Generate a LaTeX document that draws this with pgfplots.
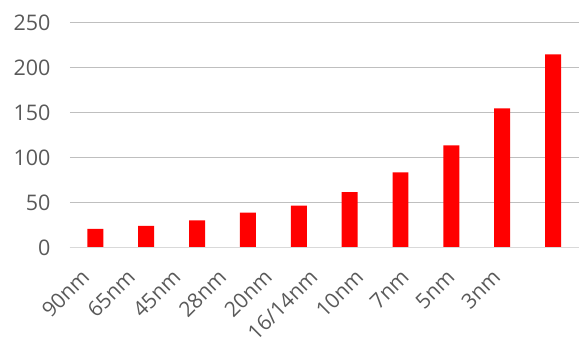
\documentclass[border=0pt]{standalone}
\usepackage{pgfplots}
\pgfplotsset{compat=1.18}
\usepackage{fontspec}
\setmainfont{Open Sans}
\definecolor{txt}{HTML}{595959}
\definecolor{grid}{HTML}{D9D9D9}
\begin{document}
\begin{tikzpicture}
\begin{axis}[
  at={(0,0)}, anchor=south west,
  scale only axis, width=509pt, height=225pt,
  xmin=-0.5, xmax=9.5, ymin=0, ymax=250,
  ytick={0,50,...,250},
  xtick={-0.108,0.790,1.688,2.586,3.484,4.382,5.280,6.178,7.076,7.974},
  xticklabels={90nm,65nm,45nm,28nm,20nm,16/14nm,10nm,7nm,5nm,3nm},
  x tick label style={xshift=-10pt, yshift=-20pt, rotate=45, anchor=north east, font=\fontsize{21}{24}\selectfont, text=txt, inner sep=0pt},
  y tick label style={font=\fontsize{21.5}{25}\selectfont, text=txt, xshift=-16pt},
  /pgf/number format/assume math mode=true,
  ymajorgrids, xmajorgrids=false,
  major grid style={grid, line width=1pt},
  axis line style={draw=none},
  major tick length=0pt,
  ybar, bar width=16pt,
  clip=false,
]
\addplot[draw=none, fill=red] coordinates {(0,21) (1,24.5) (2,30.5) (3,39) (4,47) (5,62) (6,84) (7,114) (8,155) (9,215)};
\draw[grid, line width=1pt] (axis cs:-0.5,0) -- (axis cs:9.5,0);
\end{axis}
\useasboundingbox (-70pt,-90pt) rectangle (509pt,248pt);
\end{tikzpicture}
\end{document}
